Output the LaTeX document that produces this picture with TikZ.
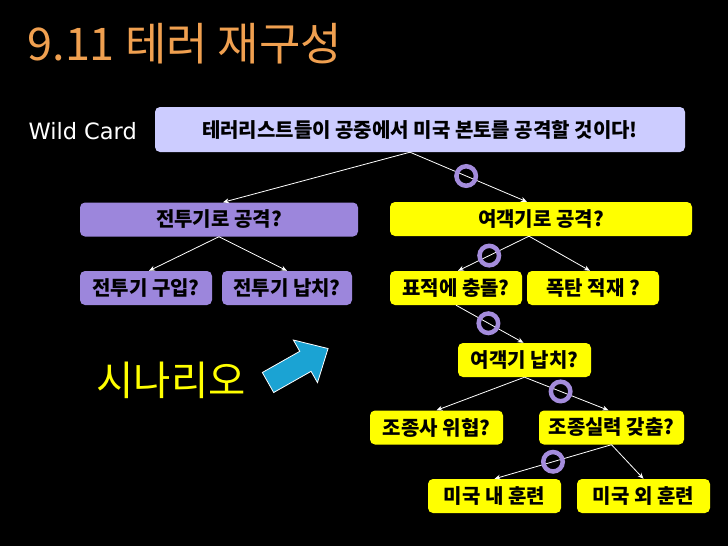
\documentclass[tikz,border=0pt]{standalone}
\usepackage{fontspec}
\setmainfont{Noto Sans CJK KR}
\newfontfamily\wildfont{DejaVu Sans}
\usepackage{tikz}
\usetikzlibrary{arrows.meta,positioning}
\definecolor{titleorange}{HTML}{F0A050}
\definecolor{topviolet}{HTML}{CCCCFF}
\definecolor{jetpurple}{HTML}{9C86DC}
\definecolor{paxyellow}{HTML}{FFFF00}
\definecolor{ringpurple}{HTML}{A48CDC}
\definecolor{arrowblue}{HTML}{1BA3D3}

\begin{document}
\begin{tikzpicture}[x=1pt, y=-1pt,
  every node/.style={font=\bfseries\fontsize{20}{22}\selectfont},
  box/.style={rectangle, rounded corners=5pt, minimum height=34pt, inner sep=0pt},
  link/.style={draw=white, line width=0.8pt, -{Stealth[length=6pt,width=5pt]}},
  ring/.style={circle, draw=ringpurple, line width=4.5pt, minimum size=19.5pt, inner sep=0pt}]
\fill[black] (0,0) rectangle (728,546);

% title and side labels
\node[anchor=west, text=titleorange, font=\fontsize{45}{48}\selectfont] (title) at (24,44) {9.11 테러 재구성};
\node[anchor=west, text=white, font=\wildfont\fontsize{22.5}{26}\selectfont] (wild) at (25,131) {Wild Card};
\node[anchor=west, text=paxyellow, font=\fontsize{40.5}{44}\selectfont] (scen) at (93,380) {시나리오};

% tree
\node[box, fill=topviolet, minimum width=530pt, minimum height=45pt] (top) at (420,129.5) {테러리스트들이 공중에서 미국 본토를 공격할 것이다!};
\node[box, fill=jetpurple, minimum width=278pt] (jet) at (219,219.5) {전투기로 공격?};
\node[box, fill=paxyellow, minimum width=302pt] (pax) at (541,219) {여객기로 공격?};
\node[box, fill=jetpurple, minimum width=132pt] (buy) at (146,288) {전투기 구입?};
\node[box, fill=jetpurple, minimum width=130pt] (jethj) at (287,288) {전투기 납치?};
\node[box, fill=paxyellow, minimum width=132pt] (target) at (456,288) {표적에 충돌?};
\node[box, fill=paxyellow, minimum width=132pt] (bomb) at (593,288) {폭탄 적재 ?};
\node[box, fill=paxyellow, minimum width=133pt] (paxhj) at (524.5,360) {여객기 납치?};
\node[box, fill=paxyellow, minimum width=133pt] (pilot) at (436.5,427.5) {조종사 위협?};
\node[box, fill=paxyellow, minimum width=145pt] (skill) at (611.5,427.5) {조종실력 갖춤?};
\node[box, fill=paxyellow, minimum width=133pt] (dom) at (494.5,496) {미국 내 훈련};
\node[box, fill=paxyellow, minimum width=133pt] (abroad) at (643.5,496) {미국 외 훈련};

\draw[link] ([xshift=-10pt]top.south) -- ([xshift=4pt]jet.north);
\draw[link] ([xshift=-10pt]top.south) -- node[ring, pos=0.48] (r1) {} ([xshift=-14pt]pax.north);
\draw[link] (jet.south) -- ([xshift=3pt]buy.north);
\draw[link] (jet.south) -- (jethj.north);
\draw[link] ([xshift=-12pt]pax.south) -- node[ring, pos=0.56] (r2) {} ([xshift=2pt]target.north);
\draw[link] ([xshift=-12pt]pax.south) -- ([xshift=-3pt]bomb.north);
\draw[link] (target.south) -- node[ring, pos=0.48] (r3) {} ([xshift=-1pt]paxhj.north);
\draw[link] (paxhj.south) -- (pilot.north);
\draw[link] (paxhj.south) -- node[ring, pos=0.43] (r4) {} ([xshift=-3pt]skill.north);
\draw[link] (skill.south) -- node[ring, pos=0.5] (r5) {} (dom.north);
\draw[link] (skill.south) -- (abroad.north);

% block arrow pointing at the tree
\draw[fill=arrowblue, draw=white, line width=0.8pt, shift={(268,382.5)}, rotate=29.5]
  (0,-11.5) -- (43,-11.5) -- (43,-24.5) -- (69,0) -- (43,24.5) -- (43,11.5) -- (0,11.5) -- cycle;
\end{tikzpicture}
\end{document}
